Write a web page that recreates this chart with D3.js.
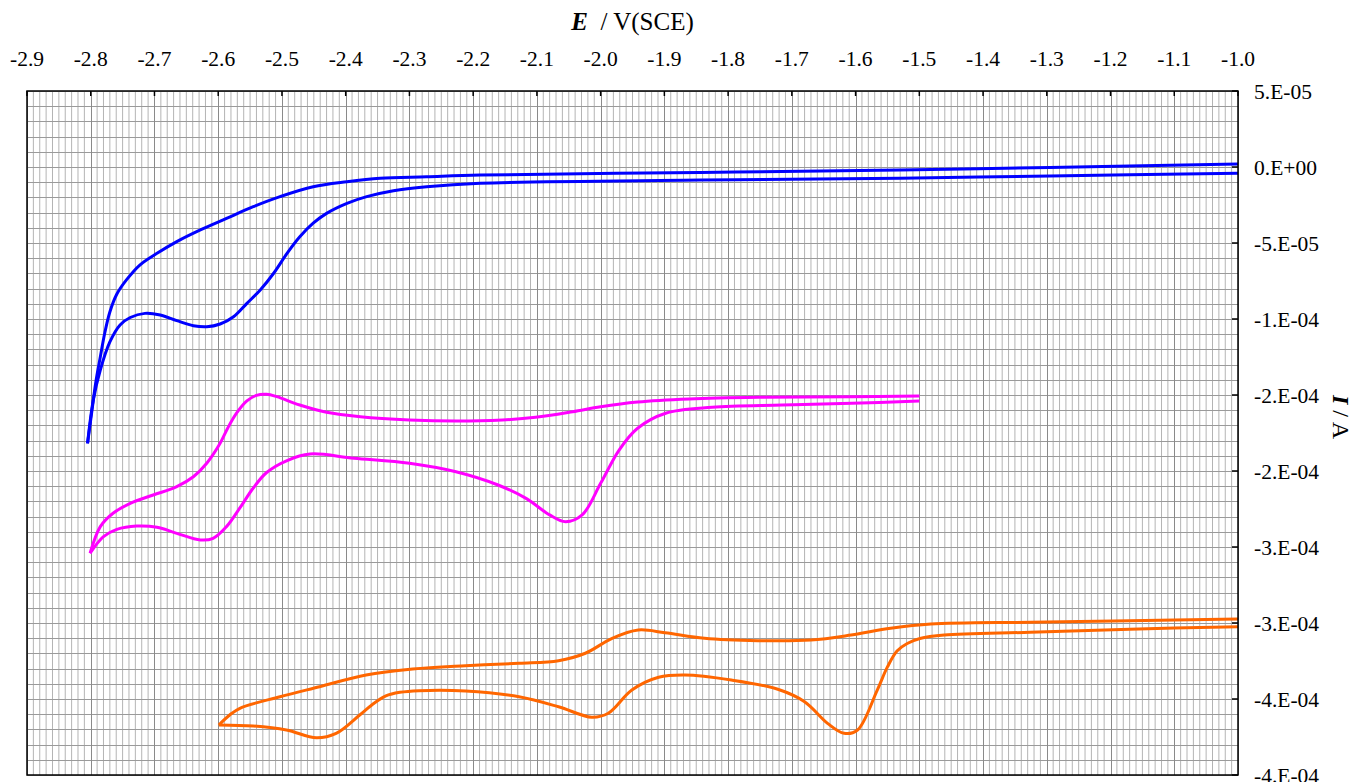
<!DOCTYPE html>
<html>
<head>
<meta charset="utf-8">
<script src="https://cdn.jsdelivr.net/npm/d3@7/dist/d3.min.js"></script>
<style>
  html, body { margin: 0; padding: 0; background: #fff; }
  svg text { font-family: "Liberation Serif", "Times New Roman", serif; fill: #000; }
</style>
</head>
<body>
<svg id="chart" width="1354" height="782" font-family="Liberation Serif, serif"></svg>
<script>
// Cyclic voltammograms: potential E (V vs SCE) and current I (µA).
// Each scan is split into its forward (cathodic) and reverse sweep, both sharing the switching point.

// Blue scan, -1.0 V -> -2.8 V -> -1.0 V
const blueForwardE = [-1.0, -1.295, -1.530, -1.844, -2.189, -2.273, -2.325, -2.367, -2.398, -2.430, -2.451, -2.472, -2.492, -2.513, -2.534, -2.555, -2.576, -2.597, -2.618, -2.639, -2.665, -2.691, -2.715, -2.738, -2.754, -2.770, -2.785, -2.796, -2.805];
const blueForwardI = [-4.1, -5.9, -7.4, -8.6, -10.7, -13.0, -15.6, -19.5, -23.9, -30.5, -37.0, -45.9, -56.8, -69.9, -80.9, -89.7, -98.5, -103.3, -105.1, -104.4, -101.1, -97.4, -96.3, -99.0, -103.9, -115.1, -133.6, -153.3, -181.8];
const blueReverseE = [-2.805, -2.798, -2.792, -2.785, -2.778, -2.770, -2.759, -2.744, -2.723, -2.696, -2.665, -2.628, -2.587, -2.545, -2.503, -2.451, -2.398, -2.346, -2.273, -2.189, -1.844, -1.530, -1.295, -1.0];
const blueReverseI = [-181.8, -159.9, -141.4, -125.0, -109.2, -95.4, -83.6, -74.3, -64.5, -56.8, -49.1, -41.4, -33.8, -26.1, -19.5, -13.0, -9.7, -7.4, -6.4, -5.3, -3.6, -2.0, -0.3, 2.0];

// Magenta scan, -1.5 V -> -2.8 V -> -1.5 V
const magentaForwardE = [-1.500, -1.606, -1.715, -1.825, -1.898, -1.942, -1.971, -2.000, -2.029, -2.055, -2.080, -2.117, -2.161, -2.227, -2.300, -2.387, -2.456, -2.492, -2.524, -2.545, -2.566, -2.587, -2.608, -2.628, -2.665, -2.696, -2.728, -2.759, -2.780, -2.801];
const magentaForwardI = [-153.9, -155.5, -156.6, -158.1, -162.0, -171.9, -186.2, -208.1, -228.9, -233.4, -228.9, -218.0, -209.2, -200.5, -194.9, -191.6, -188.8, -193.1, -201.0, -211.2, -224.3, -236.6, -244.3, -245.4, -241.0, -237.0, -236.2, -238.4, -243.2, -254.1];
const magentaReverseE = [-2.801, -2.785, -2.765, -2.738, -2.702, -2.665, -2.639, -2.618, -2.597, -2.585, -2.571, -2.555, -2.540, -2.524, -2.508, -2.472, -2.430, -2.377, -2.300, -2.227, -2.154, -2.102, -2.044, -2.000, -1.942, -1.861, -1.752, -1.606, -1.500];
const magentaReverseI = [-254.1, -236.6, -227.8, -221.3, -215.8, -210.3, -203.8, -194.9, -181.8, -171.7, -161.8, -153.9, -150.2, -149.5, -151.1, -156.6, -161.4, -164.3, -166.4, -167.1, -166.4, -164.7, -161.0, -157.7, -154.6, -152.6, -151.5, -151.1, -150.7];

// Orange scan, -1.0 V -> -2.6 V -> -1.0 V
const orangeForwardE = [-1.0, -1.170, -1.326, -1.461, -1.499, -1.519, -1.535, -1.550, -1.566, -1.597, -1.618, -1.644, -1.680, -1.722, -1.795, -1.868, -1.909, -1.951, -1.988, -2.014, -2.066, -2.128, -2.212, -2.285, -2.315, -2.337, -2.359, -2.378, -2.415, -2.446, -2.493, -2.545, -2.599];
const orangeForwardI = [-302.4, -304.1, -306.1, -307.9, -310.2, -313.5, -318.4, -328.9, -344.1, -370.4, -372.6, -366.0, -351.8, -343.6, -337.5, -334.2, -335.7, -344.1, -359.4, -362.0, -355.1, -348.5, -344.7, -344.5, -345.6, -348.0, -353.9, -360.5, -372.6, -375.5, -370.4, -367.8, -367.1];
const orangeReverseE = [-2.599, -2.582, -2.566, -2.503, -2.441, -2.368, -2.295, -2.212, -2.128, -2.066, -2.024, -1.982, -1.941, -1.899, -1.837, -1.753, -1.670, -1.607, -1.545, -1.482, -1.326, -1.170, -1.0];
const orangeReverseI = [-367.1, -360.5, -356.1, -348.5, -341.9, -334.2, -330.3, -328.1, -326.5, -324.8, -319.9, -310.1, -304.6, -306.4, -310.1, -311.6, -311.2, -307.9, -303.5, -300.7, -299.5, -298.5, -297.4];

// Axis ticks and their printed labels
const xTickValues = [-2.9, -2.8, -2.7, -2.6, -2.5, -2.4, -2.3, -2.2, -2.1, -2.0, -1.9, -1.8, -1.7, -1.6, -1.5, -1.4, -1.3, -1.2, -1.1, -1.0];
const xTickLabels = ["-2.9", "-2.8", "-2.7", "-2.6", "-2.5", "-2.4", "-2.3", "-2.2", "-2.1", "-2.0", "-1.9", "-1.8", "-1.7", "-1.6", "-1.5", "-1.4", "-1.3", "-1.2", "-1.1", "-1.0"];
const yTickValues = [5e-5, 0, -5e-5, -1e-4, -1.5e-4, -2e-4, -2.5e-4, -3e-4, -3.5e-4, -4e-4];
const yTickLabels = ["5.E-05", "0.E+00", "-5.E-05", "-1.E-04", "-2.E-04", "-2.E-04", "-3.E-04", "-3.E-04", "-4.E-04", "-4.E-04"];

const seriesColors = { blue: "#0000ff", magenta: "#ff00ff", orange: "#ff6600" };

// ---------------------------------------------------------------
const svg = d3.select("#chart");
const plot = { left: 27, right: 1238, top: 91, bottom: 775 };

const x = d3.scaleLinear().domain([-2.9, -1.0]).range([plot.left, plot.right]);
const y = d3.scaleLinear().domain([5e-5, -4e-4]).range([plot.top, plot.bottom]);

// Grid: minor verticals every 0.01 V, majors every 0.1 V, horizontals every 1e-5 A
const grid = svg.append("g");
const minorX = d3.range(0, 191).map(i => -2.9 + i * 0.01).filter((v, i) => i % 10 !== 0);
grid.selectAll(".vminor").data(minorX).join("line")
  .attr("x1", d => x(d)).attr("x2", d => x(d))
  .attr("y1", plot.top).attr("y2", plot.bottom)
  .attr("stroke", "#b4b4b4").attr("stroke-width", 1);

const hLines = d3.range(0, 46).map(i => 5e-5 - i * 1e-5);
grid.selectAll(".h").data(hLines).join("line")
  .attr("x1", plot.left).attr("x2", plot.right)
  .attr("y1", d => Math.round(y(d)) + 0.5).attr("y2", d => Math.round(y(d)) + 0.5)
  .attr("stroke", "#9a9a9a").attr("stroke-width", 1);

grid.selectAll(".vmajor").data(xTickValues).join("line")
  .attr("x1", d => Math.round(x(d)) + 0.5).attr("x2", d => Math.round(x(d)) + 0.5)
  .attr("y1", plot.top).attr("y2", plot.bottom)
  .attr("stroke", "#8a8a8a").attr("stroke-width", 1);

// Voltammogram traces
const line = d3.line()
  .x(d => x(d[0]))
  .y(d => y(d[1] * 1e-6))
  .curve(d3.curveCatmullRom.alpha(0.5));

const traces = [
  { E: blueForwardE, I: blueForwardI, color: seriesColors.blue },
  { E: blueReverseE, I: blueReverseI, color: seriesColors.blue },
  { E: magentaForwardE, I: magentaForwardI, color: seriesColors.magenta },
  { E: magentaReverseE, I: magentaReverseI, color: seriesColors.magenta },
  { E: orangeForwardE, I: orangeForwardI, color: seriesColors.orange },
  { E: orangeReverseE, I: orangeReverseI, color: seriesColors.orange }
];

svg.append("g").selectAll("path").data(traces).join("path")
  .attr("d", t => line(t.E.map((e, i) => [e, t.I[i]])))
  .attr("fill", "none")
  .attr("stroke", t => t.color)
  .attr("stroke-width", 3)
  .attr("stroke-linejoin", "round");

// Plot frame
svg.append("rect")
  .attr("x", plot.left).attr("y", plot.top)
  .attr("width", plot.right - plot.left).attr("height", plot.bottom - plot.top)
  .attr("fill", "none").attr("stroke", "#000").attr("stroke-width", 1.5);

// Top axis (potential)
const xAxis = svg.append("g");
xAxis.selectAll("line").data(xTickValues).join("line")
  .attr("x1", d => x(d)).attr("x2", d => x(d))
  .attr("y1", plot.top).attr("y2", plot.top + 5)
  .attr("stroke", "#000").attr("stroke-width", 1.5);
xAxis.selectAll("text").data(xTickValues).join("text")
  .attr("x", d => x(d)).attr("y", 66)
  .attr("text-anchor", "middle")
  .attr("font-size", 21.5)
  .text((d, i) => xTickLabels[i]);

// Right axis (current)
const yAxis = svg.append("g");
yAxis.selectAll("line").data(yTickValues).join("line")
  .attr("x1", plot.right - 6).attr("x2", plot.right)
  .attr("y1", d => y(d)).attr("y2", d => y(d))
  .attr("stroke", "#000").attr("stroke-width", 1.5);
yAxis.selectAll("text").data(yTickValues).join("text")
  .attr("x", 1254).attr("y", d => y(d))
  .attr("dy", "0.35em")
  .attr("font-size", 21.5)
  .text((d, i) => yTickLabels[i]);

// Axis titles
const xTitle = svg.append("text")
  .attr("x", (plot.left + plot.right) / 2).attr("y", 30)
  .attr("text-anchor", "middle").attr("font-size", 25);
xTitle.append("tspan").attr("font-weight", "bold").attr("font-style", "italic").text("E");
xTitle.append("tspan").text("\u00a0\u00a0/ V(SCE)");

const yTitle = svg.append("text")
  .attr("transform", "translate(1333,417) rotate(90)")
  .attr("text-anchor", "middle").attr("font-size", 24);
yTitle.append("tspan").attr("font-weight", "bold").attr("font-style", "italic").text("I");
yTitle.append("tspan").text("\u00a0/ A");
</script>
</body>
</html>
